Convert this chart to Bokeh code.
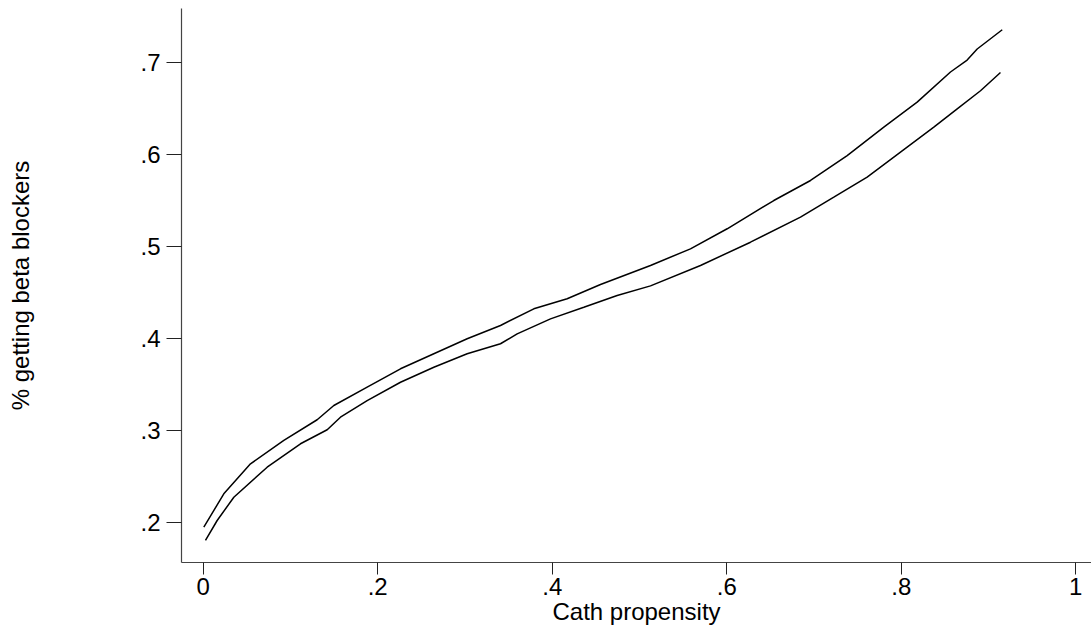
from bokeh.plotting import figure
from bokeh.models import FixedTicker, Range1d
from bokeh.embed import file_html
from bokeh.resources import INLINE

# Data
upper_x = [0.0007, 0.0236, 0.0542, 0.0924, 0.1306, 0.1497, 0.1879, 0.2261, 0.2643,
           0.3025, 0.3407, 0.3789, 0.4171, 0.4553, 0.5126, 0.5584, 0.6005, 0.6539,
           0.6960, 0.7380, 0.7800, 0.8182, 0.8564, 0.8755, 0.8870, 0.9157]
upper_y = [0.1952, 0.2315, 0.2641, 0.2895, 0.3120, 0.3275, 0.3474, 0.3674, 0.3837,
           0.4000, 0.4145, 0.4326, 0.4435, 0.4590, 0.4797, 0.4978, 0.5196, 0.5503,
           0.5721, 0.5992, 0.6300, 0.6572, 0.6900, 0.7030, 0.7150, 0.7359]

lower_x = [0.0026, 0.0160, 0.0351, 0.0733, 0.1115, 0.1421, 0.1573, 0.1879, 0.2261,
           0.2643, 0.3025, 0.3407, 0.3598, 0.3980, 0.4362, 0.4744, 0.5126, 0.5699,
           0.6272, 0.6845, 0.7227, 0.7609, 0.7991, 0.8373, 0.8641, 0.8908, 0.9137]
lower_y = [0.1808, 0.2025, 0.2278, 0.2604, 0.2859, 0.3011, 0.3148, 0.3329, 0.3528,
           0.3691, 0.3837, 0.3946, 0.4054, 0.4217, 0.4343, 0.4471, 0.4575, 0.4797,
           0.5050, 0.5322, 0.5539, 0.5757, 0.6028, 0.6300, 0.6500, 0.6696, 0.6895]

x_ticks = [0, 0.2, 0.4, 0.6, 0.8, 1]
x_tick_labels = ["0", ".2", ".4", ".6", ".8", "1"]
y_ticks = [0.2, 0.3, 0.4, 0.5, 0.6, 0.7]
y_tick_labels = [".2", ".3", ".4", ".5", ".6", ".7"]

FONT = "Liberation Sans"
FS = "24px"

p = figure(width=1091, height=631, output_backend="svg", toolbar_location=None,
           x_range=Range1d(-0.02487, 1.018), y_range=Range1d(0.15685, 0.75902),
           min_border_left=181, min_border_right=0, min_border_top=8,
           min_border_bottom=69)

p.line(upper_x, upper_y, line_color="black", line_width=1.5)
p.line(lower_x, lower_y, line_color="black", line_width=1.5)

p.grid.visible = False
p.outline_line_color = None
p.background_fill_color = "white"
p.border_fill_color = "white"

for ax, ticks, labels in ((p.xaxis[0], x_ticks, x_tick_labels),
                          (p.yaxis[0], y_ticks, y_tick_labels)):
    ax.ticker = FixedTicker(ticks=ticks)
    ax.major_label_overrides = {t: l for t, l in zip(ticks, labels)}
    ax.minor_tick_line_color = None
    ax.major_tick_in = 0
    ax.axis_line_color = "#444444"
    ax.axis_line_width = 1.2
    ax.major_tick_line_color = "#222222"
    ax.major_label_text_font = FONT
    ax.major_label_text_font_size = FS
    ax.major_label_text_color = "black"
    ax.axis_label_text_font = FONT
    ax.axis_label_text_font_size = FS
    ax.axis_label_text_font_style = "normal"
    ax.axis_label_text_color = "black"

p.xaxis.major_tick_out = 12
p.xaxis.major_label_standoff = 3
p.xaxis.axis_label = "Cath propensity"
p.xaxis.axis_label_standoff = 0

p.yaxis.major_tick_out = 15
p.yaxis.major_label_standoff = 6
p.yaxis.axis_label = "% getting beta blockers"
p.yaxis.axis_label_standoff = 103

open("out.html", "w").write(file_html(p, INLINE))
